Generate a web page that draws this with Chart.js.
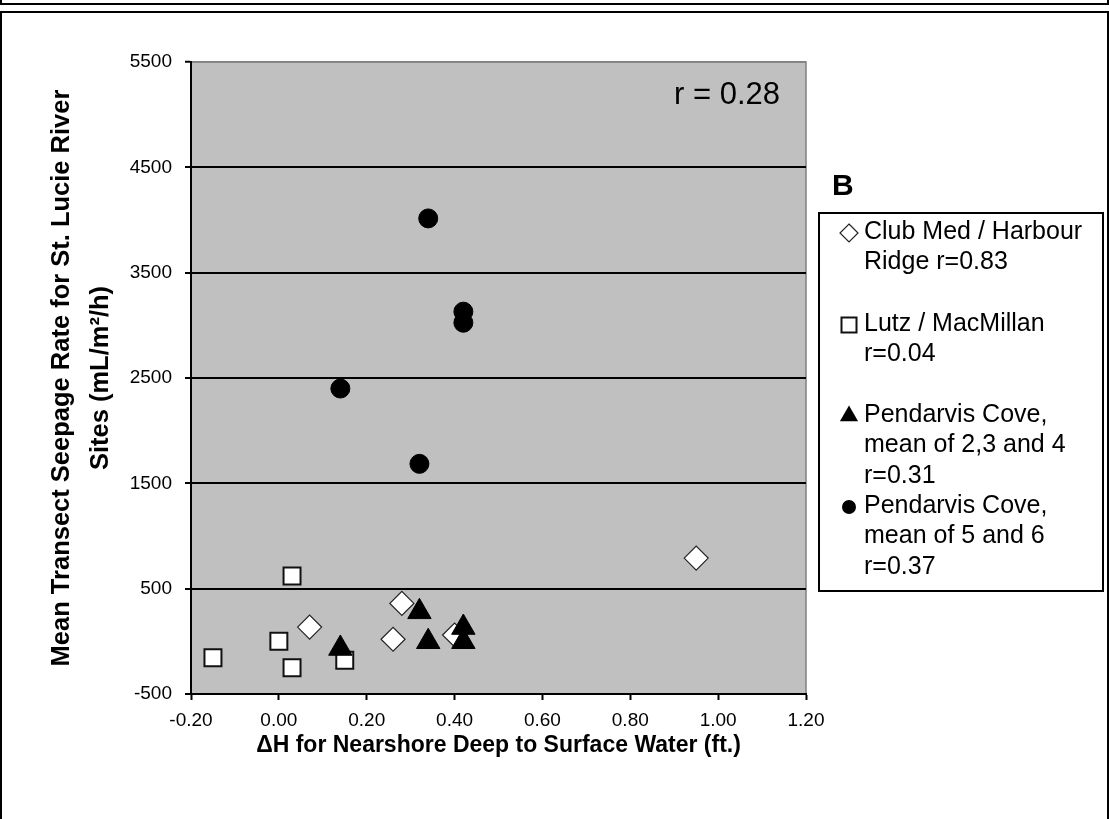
<!DOCTYPE html>
<html><head><meta charset="utf-8">
<script src="https://cdn.jsdelivr.net/npm/chart.js@4.4.1/dist/chart.umd.min.js"></script>
<style>
html,body{margin:0;padding:0;background:#fff;width:1109px;height:819px;overflow:hidden;}
#topstrip{position:absolute;left:0;top:0;width:1105px;height:3px;border:2px solid #000;border-top:none;background:#fff;}
#frame{position:absolute;left:0;top:11px;width:1105px;height:830px;border:2px solid #000;}
#wrap{position:absolute;left:0;top:0;width:1109px;height:819px;}
</style></head><body>
<div id="topstrip"></div><div id="frame"></div>
<div id="wrap"><canvas id="c" width="1109" height="819"></canvas></div>
<script>
const FONT = "'Liberation Sans', Arial, sans-serif";
const xTickLabels = ['-0.20','0.00','0.20','0.40','0.60','0.80','1.00','1.20'];
const yTickLabels = ['-500','500','1500','2500','3500','4500','5500'];
const xTitle = 'ΔH for Nearshore Deep to Surface Water (ft.)';
const yTitle = ['Mean Transect Seepage Rate for St. Lucie River', 'Sites (mL/m²/h)'];
const overallR = 'r = 0.28';
const panelLabel = 'B';

const clubMedX = [0.07, 0.28, 0.26, 0.40, 0.95];
const clubMedY = [135, 360, 20, 60, 790];
const lutzX = [0.03, 0.00, -0.15, 0.03, 0.15];
const lutzY = [620, 0, -155, -250, -180];
const pend234X = [0.14, 0.32, 0.34, 0.42, 0.42];
const pend234Y = [-68, 280, -4, 131, -4];
const pend56X = [0.34, 0.42, 0.42, 0.14, 0.32];
const pend56Y = [4015, 3130, 3025, 2400, 1685];

const seriesNames = [
  ['Club Med / Harbour', 'Ridge r=0.83'],
  ['Lutz / MacMillan', 'r=0.04'],
  ['Pendarvis Cove,', 'mean of 2,3 and 4', 'r=0.31'],
  ['Pendarvis Cove,', 'mean of 5 and 6', 'r=0.37']
];

function pts(xs, ys) { return xs.map((x, i) => ({x: x, y: ys[i]})); }

const bgPlugin = {
  id: 'bg',
  beforeDraw(chart) {
    const {ctx, chartArea: a} = chart;
    ctx.save();
    ctx.fillStyle = '#C0C0C0';
    ctx.fillRect(a.left, a.top, a.right - a.left, a.bottom - a.top);
    ctx.strokeStyle = '#808080';
    ctx.lineWidth = 1.5;
    ctx.strokeRect(a.left, a.top, a.right - a.left, a.bottom - a.top);
    ctx.restore();
  }
};

function marker(ctx, type, x, y) {
  ctx.save();
  ctx.beginPath();
  if (type === 0) {
    const r = 9;
    ctx.moveTo(x, y - r); ctx.lineTo(x + r, y); ctx.lineTo(x, y + r); ctx.lineTo(x - r, y); ctx.closePath();
    ctx.fillStyle = '#fff'; ctx.fill(); ctx.strokeStyle = '#222'; ctx.lineWidth = 1.2; ctx.stroke();
  } else if (type === 1) {
    ctx.rect(x - 7.5, y - 7.5, 15, 15);
    ctx.fillStyle = '#fff'; ctx.fill(); ctx.strokeStyle = '#111'; ctx.lineWidth = 2; ctx.stroke();
  } else if (type === 2) {
    const r = 10.5;
    ctx.moveTo(x, y - r);
    ctx.lineTo(x + r * Math.sin(2 * Math.PI / 3), y - r * Math.cos(2 * Math.PI / 3));
    ctx.lineTo(x + r * Math.sin(4 * Math.PI / 3), y - r * Math.cos(4 * Math.PI / 3));
    ctx.closePath();
    ctx.fillStyle = '#000'; ctx.fill();
  } else {
    ctx.arc(x, y, 7, 0, Math.PI * 2);
    ctx.fillStyle = '#000'; ctx.fill();
  }
  ctx.restore();
}

const annotPlugin = {
  id: 'annot',
  afterDraw(chart) {
    const ctx = chart.ctx;
    ctx.save();
    ctx.fillStyle = '#000';
    ctx.textBaseline = 'middle';
    ctx.textAlign = 'left';
    ctx.font = '31px ' + FONT;
    ctx.fillText(overallR, 674, 95);
    ctx.font = 'bold 30px ' + FONT;
    ctx.fillText(panelLabel, 832, 187);
    ctx.strokeStyle = '#000';
    ctx.lineWidth = 2;
    ctx.strokeRect(819, 213, 284, 378);
    ctx.font = '25px ' + FONT;
    const starts = [232, 324, 415, 506];
    const pitch = 30.5;
    seriesNames.forEach((lines, k) => {
      marker(ctx, k, 849, starts[k] + 1);
      lines.forEach((t, j) => ctx.fillText(t, 864, starts[k] + j * pitch));
    });
    ctx.restore();
  }
};

new Chart(document.getElementById('c').getContext('2d'), {
  type: 'scatter',
  data: {
    datasets: [
      {label: seriesNames[0].join(' '), data: pts(clubMedX, clubMedY), pointStyle: 'rectRot', pointRadius: 12,
       backgroundColor: '#fff', borderColor: '#222', borderWidth: 1.2, order: 4},
      {label: seriesNames[1].join(' '), data: pts(lutzX, lutzY), pointStyle: 'rect', pointRadius: 12,
       backgroundColor: '#fff', borderColor: '#111', borderWidth: 2, order: 3},
      {label: seriesNames[2].join(' '), data: pts(pend234X, pend234Y), pointStyle: 'triangle', pointRadius: 13.5,
       backgroundColor: '#000', borderColor: '#000', borderWidth: 1, order: 2},
      {label: seriesNames[3].join(' '), data: pts(pend56X, pend56Y), pointStyle: 'circle', pointRadius: 9.5,
       backgroundColor: '#000', borderColor: '#000', borderWidth: 1, order: 1}
    ]
  },
  options: {
    responsive: false, animation: false, devicePixelRatio: 1,
    layout: {padding: {left: 0, top: 62, right: 303, bottom: 0}},
    plugins: {legend: {display: false}, tooltip: {enabled: false}},
    scales: {
      x: {
        type: 'linear', min: -0.2, max: 1.2,
        afterFit: s => { s.height = 125; },
        ticks: {stepSize: 0.2, autoSkip: false, maxRotation: 0, padding: 9, color: '#000',
                font: {family: FONT, size: 19}, callback: (v, i) => xTickLabels[i]},
        grid: {drawOnChartArea: false, drawTicks: true, tickLength: 6, tickColor: '#000', tickWidth: 2},
        border: {display: true, color: '#000', width: 2},
        title: {display: true, text: xTitle, color: '#000', font: {family: FONT, size: 23, weight: 'bold'},
                padding: {top: 0, bottom: 60}}
      },
      y: {
        type: 'linear', min: -500, max: 5500,
        afterFit: s => { s.width = 191; },
        ticks: {stepSize: 1000, autoSkip: false, padding: 13, color: '#000',
                font: {family: FONT, size: 19}, callback: (v, i) => yTickLabels[i]},
        grid: {
          color: c => (c.tick && c.tick.value === 5500) ? '#808080' : '#000',
          lineWidth: c => (c.tick && c.tick.value === 5500) ? 1.5 : 2,
          drawTicks: true, tickLength: 6, tickColor: '#000', tickWidth: 2
        },
        border: {display: true, color: '#000', width: 2},
        title: {display: true, text: yTitle, color: '#000',
                font: {family: FONT, size: 25.5, weight: 'bold', lineHeight: '39px'},
                padding: {top: 42.5, bottom: 0}}
      }
    }
  },
  plugins: [bgPlugin, annotPlugin]
});
</script>
</body></html>
